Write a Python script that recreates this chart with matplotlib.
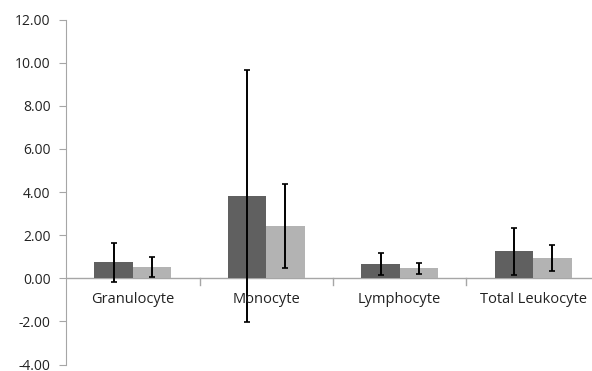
import matplotlib.pyplot as plt
import numpy as np

categories = ["Granulocyte", "Monocyte", "Lymphocyte", "Total Leukocyte"]
dark_vals = [0.74, 3.83, 0.65, 1.25]
dark_err = [0.91, 5.85, 0.50, 1.10]
light_vals = [0.53, 2.42, 0.47, 0.94]
light_err = [0.46, 1.93, 0.25, 0.62]
yticks = np.arange(-4, 12.01, 2)

plt.rcParams['font.family'] = ['Open Sans', 'DejaVu Sans']

fig = plt.figure(figsize=(5.92, 3.71), dpi=100)
# plot area runs slightly past the right edge of the canvas
ax = fig.add_axes([66/592, 1 - 364.5/371, (600 - 66)/592, (364.5 - 19.5)/371])

x = np.arange(len(categories))
w = 0.287
ekw = dict(ecolor='black', elinewidth=1.4, capsize=2, capthick=1.2)
ax.bar(x - w/2, dark_vals, w, color='#606060', yerr=dark_err, error_kw=ekw, zorder=2)
ax.bar(x + w/2, light_vals, w, color='#b3b3b3', yerr=light_err, error_kw=ekw, zorder=2)

ax.set_xlim(-0.5, len(categories) - 0.5)
ax.set_ylim(-4, 12)
ax.set_yticks(yticks)
ax.set_yticklabels([f"{v:.2f}" for v in yticks], fontsize=10, color='#222222')

for s in ['top', 'right', 'bottom']:
    ax.spines[s].set_visible(False)
ax.spines['left'].set_color('#a6a6a6')
ax.axhline(0, color='#a6a6a6', lw=1, zorder=1)

ax.set_xticks([])
# category boundary ticks on the zero line
for b in np.arange(0.5, len(categories) - 0.5, 1):
    ax.plot([b, b], [0, -0.3], color='#a6a6a6', lw=1, clip_on=False, zorder=1)
for i, c in enumerate(categories):
    ax.text(i, -0.98, c, ha='center', va='center', fontsize=10.5, color='#222222')

ax.tick_params(axis='y', length=5, color='#a6a6a6', pad=6)

fig.savefig('out.png', dpi=100)
